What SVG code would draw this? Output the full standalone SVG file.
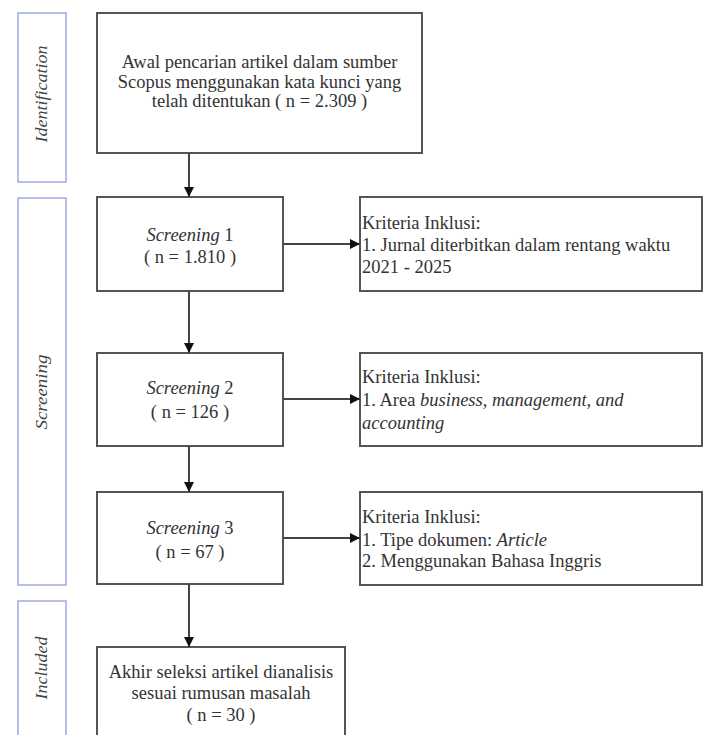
<svg xmlns="http://www.w3.org/2000/svg" width="713" height="735" viewBox="0 0 713 735">
<defs>
<style>
.box{fill:#fff;stroke:#555;stroke-width:2}
.side{fill:#fff;stroke:#a3aee3;stroke-width:1.6}
.t{font-family:"Liberation Serif","Times New Roman",serif;font-size:18.5px;fill:#333}
.c{text-anchor:middle}
.i{font-style:italic}
.st{font-family:"Liberation Serif","Times New Roman",serif;font-size:16px;font-style:italic;fill:#444;text-anchor:middle}
.ln{stroke:#444;stroke-width:2;fill:none}
</style>
<marker id="ah" viewBox="0 0 10 10" refX="10" refY="5" markerWidth="10" markerHeight="10" markerUnits="userSpaceOnUse" orient="auto">
<path d="M0,0 L10,5 L0,10 Z" fill="#111"/>
</marker>
</defs>
<rect width="713" height="735" fill="#fff"/>
<g id="side-identification">
<rect class="side" x="18" y="13" width="48" height="169"/>
<text class="st" transform="translate(47,94) rotate(-90)" textLength="97" lengthAdjust="spacingAndGlyphs">Identification</text>
</g>
<g id="side-screening">
<rect class="side" x="18" y="198" width="48" height="387"/>
<text class="st" transform="translate(47,392) rotate(-90)" textLength="75" lengthAdjust="spacingAndGlyphs">Screening</text>
</g>
<g id="side-included">
<rect class="side" x="18" y="601" width="48" height="140"/>
<text class="st" transform="translate(47,668) rotate(-90)" textLength="63" lengthAdjust="spacingAndGlyphs">Included</text>
</g>
<g id="identification">
<rect class="box" x="97" y="13" width="325" height="140"/>
<text class="t c" x="259.5" y="68">Awal pencarian artikel dalam sumber</text>
<text class="t c" x="259.5" y="88">Scopus menggunakan kata kunci yang</text>
<text class="t c" x="259.5" y="107">telah ditentukan ( n = 2.309 )</text>
</g>
<g id="screening1">
<rect class="box" x="97" y="197" width="186" height="94"/>
<text class="t c" x="190" y="241"><tspan class="i">Screening</tspan> 1</text>
<text class="t c" x="190" y="263">( n = 1.810 )</text>
</g>
<g id="criteria1">
<rect class="box" x="360" y="197" width="342" height="94"/>
<text class="t" x="362" y="229">Kriteria Inklusi:</text>
<text class="t" x="362" y="251">1. Jurnal diterbitkan dalam rentang waktu</text>
<text class="t" x="362" y="273">2021 - 2025</text>
</g>
<g id="screening2">
<rect class="box" x="97" y="353" width="186" height="93"/>
<text class="t c" x="190" y="394"><tspan class="i">Screening</tspan> 2</text>
<text class="t c" x="190" y="418">( n = 126 )</text>
</g>
<g id="criteria2">
<rect class="box" x="360" y="353" width="342" height="93"/>
<text class="t" x="362" y="383">Kriteria Inklusi:</text>
<text class="t" x="362" y="406">1. Area <tspan class="i">business, management, and</tspan></text>
<text class="t i" x="362" y="429">accounting</text>
</g>
<g id="screening3">
<rect class="box" x="97" y="492" width="186" height="92"/>
<text class="t c" x="190" y="534"><tspan class="i">Screening</tspan> 3</text>
<text class="t c" x="190" y="558">( n = 67 )</text>
</g>
<g id="criteria3">
<rect class="box" x="360" y="492" width="342" height="93"/>
<text class="t" x="362" y="523">Kriteria Inklusi:</text>
<text class="t" x="362" y="546">1. Tipe dokumen: <tspan class="i">Article</tspan></text>
<text class="t" x="362" y="567">2. Menggunakan Bahasa Inggris</text>
</g>
<g id="included">
<rect class="box" x="97" y="647" width="248" height="100"/>
<text class="t c" x="221" y="678">Akhir seleksi artikel dianalisis</text>
<text class="t c" x="221" y="699">sesuai rumusan masalah</text>
<text class="t c" x="221" y="721">( n = 30 )</text>
</g>
<g id="connectors">
<line class="ln" x1="189" y1="153" x2="189" y2="197" marker-end="url(#ah)"/>
<line class="ln" x1="189" y1="291" x2="189" y2="353" marker-end="url(#ah)"/>
<line class="ln" x1="189" y1="446" x2="189" y2="492" marker-end="url(#ah)"/>
<line class="ln" x1="189" y1="584" x2="189" y2="647" marker-end="url(#ah)"/>
<line class="ln" x1="283" y1="244" x2="360" y2="244" marker-end="url(#ah)"/>
<line class="ln" x1="283" y1="399" x2="360" y2="399" marker-end="url(#ah)"/>
<line class="ln" x1="283" y1="538" x2="360" y2="538" marker-end="url(#ah)"/>
</g>
</svg>
